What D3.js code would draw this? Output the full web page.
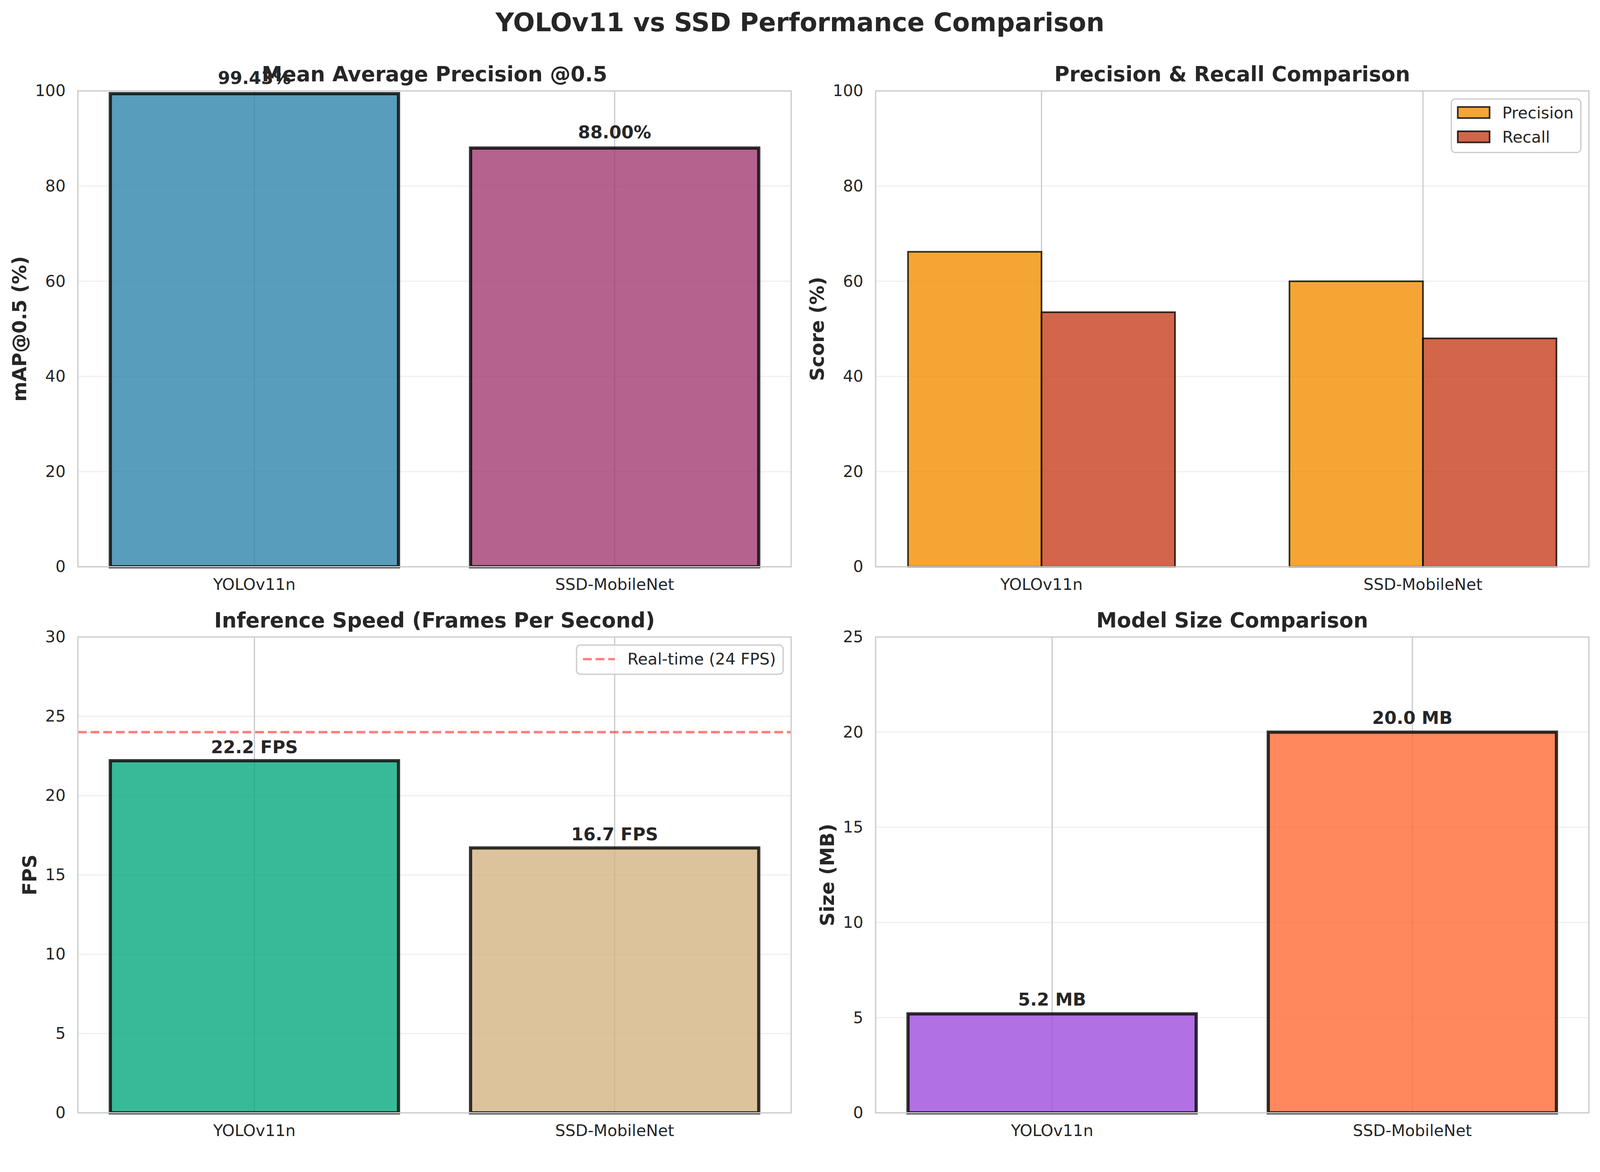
<!DOCTYPE html>
<html>
<head>
<meta charset="utf-8">
<script src="https://cdn.jsdelivr.net/npm/d3@7"></script>
<style>
  html, body { margin: 0; padding: 0; background: #fff; overflow: hidden; }
  svg { display: block; }
  text { font-family: "DejaVu Sans", sans-serif; fill: #262626; }
</style>
</head>
<body>
<svg id="fig" viewBox="0 0 4170 3000" preserveAspectRatio="xMinYMin meet"></svg>
<script>
const models = ["YOLOv11n", "SSD-MobileNet"];
const mapValues = [99.43, 88.00];
const precisionValues = [66.2, 60.0];
const recallValues = [53.5, 48.0];
const fpsValues = [22.2, 16.7];
const sizeValues = [5.2, 20.0];
const realtimeFps = 24;

const mapTicks = [0, 20, 40, 60, 80, 100];
const scoreTicks = [0, 20, 40, 60, 80, 100];
const fpsTicks = [0, 5, 10, 15, 20, 25, 30];
const sizeTicks = [0, 5, 10, 15, 20, 25];

const svg = d3.select("#fig")
  .style("width", "100vw").style("height", "100vh");
svg.append("rect").attr("width", 4170).attr("height", 3000).attr("fill", "#fff");

// panel boxes (pixels)
const colX = [203, 2282], panelW = 1859;
const rowY = [237, 1660], panelH = 1240;

const tickFont = 41.7, labelFont = 50, titleFont = 54, valueFont = 45.8;

svg.append("text")
  .attr("x", 2085).attr("y", 81)
  .attr("text-anchor", "middle")
  .style("font-size", "66.7px").style("font-weight", "bold")
  .text("YOLOv11 vs SSD Performance Comparison");

function makePanel(col, row, yMax, ticks, title, ylabel) {
  const g = svg.append("g").attr("transform", `translate(${colX[col]},${rowY[row]})`);
  const y = d3.scaleLinear().domain([0, yMax]).range([panelH, 0]);

  // horizontal grid (light)
  g.append("g").selectAll("line").data(ticks).enter().append("line")
    .attr("x1", 0).attr("x2", panelW)
    .attr("y1", d => y(d)).attr("y2", d => y(d))
    .attr("stroke", "#cccccc").attr("stroke-opacity", 0.3).attr("stroke-width", 3.3);

  const ya = g.append("g").call(d3.axisLeft(y).tickValues(ticks).tickSize(0).tickPadding(32));
  ya.select(".domain").remove();
  ya.selectAll("text").style("font-size", tickFont + "px").attr("fill", "#262626");

  g.append("text")
    .attr("x", panelW / 2).attr("y", -25)
    .attr("text-anchor", "middle")
    .style("font-size", titleFont + "px").style("font-weight", "bold")
    .text(title);

  const tickW = d3.max(ticks, t => String(t).length) * 0.636 * tickFont;
  g.append("text")
    .attr("transform", `translate(${-32 - tickW - 41},${panelH / 2}) rotate(-90)`)
    .attr("text-anchor", "middle")
    .attr("dy", "0.36em")
    .style("font-size", labelFont + "px").style("font-weight", "bold")
    .text(ylabel);

  return { g, y };
}

function addXAxis(g, x) {
  g.selectAll(".vgrid").data(models).enter().append("line")
    .attr("class", "vgrid")
    .attr("x1", d => x(d) + x.bandwidth() / 2).attr("x2", d => x(d) + x.bandwidth() / 2)
    .attr("y1", 0).attr("y2", panelH)
    .attr("stroke", "#cccccc").attr("stroke-width", 3.3);

  const xa = g.append("g").attr("transform", `translate(0,${panelH})`)
    .call(d3.axisBottom(x).tickSize(0).tickPadding(31));
  xa.select(".domain").remove();
  xa.selectAll("text").style("font-size", tickFont + "px").attr("fill", "#262626");
}

function addSpines(g) {
  g.append("rect")
    .attr("x", 0).attr("y", 0).attr("width", panelW).attr("height", panelH)
    .attr("fill", "none").attr("stroke", "#cccccc").attr("stroke-width", 3.3);
}

function singleBars(p, values, colors, fmt, offset) {
  const x = d3.scaleBand().domain(models).range([0, panelW]).paddingInner(0.2).paddingOuter(0.09);
  addXAxis(p.g, x);
  const data = models.map((m, i) => ({ m, v: values[i], c: colors[i] }));
  p.g.selectAll(".bar").data(data).enter().append("rect")
    .attr("class", "bar")
    .attr("x", d => x(d.m)).attr("width", x.bandwidth())
    .attr("y", d => p.y(d.v)).attr("height", d => p.y(0) - p.y(d.v))
    .attr("fill", d => d.c).attr("fill-opacity", 0.8)
    .attr("stroke", "#000").attr("stroke-opacity", 0.8).attr("stroke-width", 8.3);
  return { x, data, labels: () => {
    p.g.selectAll(".val").data(data).enter().append("text")
      .attr("class", "val")
      .attr("x", d => x(d.m) + x.bandwidth() / 2)
      .attr("y", d => p.y(d.v) - offset)
      .attr("text-anchor", "middle")
      .style("font-size", valueFont + "px").style("font-weight", "bold")
      .text(d => fmt(d.v));
  }};
}

function legend(g, items) {
  const pad = 16.7, rowH = 42.6, gap = 20.8, handleW = 83, textPad = 33;
  const textW = d3.max(items, d => d.w);
  const w = pad * 2 + handleW + textPad + textW;
  const h = pad * 2 + items.length * rowH + (items.length - 1) * gap;
  const lg = g.append("g").attr("transform", `translate(${panelW - 21 - w},21)`);
  lg.append("rect").attr("width", w).attr("height", h).attr("rx", 10)
    .attr("fill", "#fff").attr("fill-opacity", 0.8)
    .attr("stroke", "#cccccc").attr("stroke-width", 3.3);
  items.forEach((d, i) => {
    const base = pad + 34 + i * (rowH + gap);
    if (d.type === "patch") {
      lg.append("rect").attr("x", pad).attr("y", base - 30).attr("width", handleW).attr("height", 29)
        .attr("fill", d.color).attr("fill-opacity", 0.8)
        .attr("stroke", "#000").attr("stroke-opacity", 0.8).attr("stroke-width", 4.2);
    } else {
      lg.append("line").attr("x1", pad).attr("x2", pad + handleW)
        .attr("y1", base - 14).attr("y2", base - 14)
        .attr("stroke", "#ff0000").attr("stroke-opacity", 0.5)
        .attr("stroke-width", 6.25).attr("stroke-dasharray", "23,10");
    }
    lg.append("text").attr("x", pad + handleW + textPad).attr("y", base)
      .style("font-size", tickFont + "px").text(d.label);
  });
}

// Panel 1: mAP
const p1 = makePanel(0, 0, 100, mapTicks, "Mean Average Precision @0.5", "mAP@0.5 (%)");
const b1 = singleBars(p1, mapValues, ["#2E86AB", "#A23B72"], v => v.toFixed(2) + "%", 25);
addSpines(p1.g);
b1.labels();

// Panel 2: precision & recall
const p2 = makePanel(1, 0, 100, scoreTicks, "Precision & Recall Comparison", "Score (%)");
const series = ["Precision", "Recall"];
const seriesColors = { Precision: "#F18F01", Recall: "#C73E1D" };
const x0 = d3.scaleBand().domain(models).range([0, panelW]).paddingInner(0.3).paddingOuter(0.085);
const x1 = d3.scaleBand().domain(series).range([0, x0.bandwidth()]);
addXAxis(p2.g, x0);
const prData = [];
models.forEach((m, i) => {
  prData.push({ m, s: "Precision", v: precisionValues[i] });
  prData.push({ m, s: "Recall", v: recallValues[i] });
});
p2.g.selectAll(".bar").data(prData).enter().append("rect")
  .attr("class", "bar")
  .attr("x", d => x0(d.m) + x1(d.s)).attr("width", x1.bandwidth())
  .attr("y", d => p2.y(d.v)).attr("height", d => p2.y(0) - p2.y(d.v))
  .attr("fill", d => seriesColors[d.s]).attr("fill-opacity", 0.8)
  .attr("stroke", "#000").attr("stroke-opacity", 0.8).attr("stroke-width", 4.2);
addSpines(p2.g);
legend(p2.g, [
  { type: "patch", label: "Precision", color: seriesColors.Precision, w: 188 },
  { type: "patch", label: "Recall", color: seriesColors.Recall, w: 188 }
]);

// Panel 3: FPS
const p3 = makePanel(0, 1, 30, fpsTicks, "Inference Speed (Frames Per Second)", "FPS");
const b3 = singleBars(p3, fpsValues, ["#06A77D", "#D4B483"], v => v.toFixed(1) + " FPS", 20);
p3.g.append("line")
  .attr("x1", 0).attr("x2", panelW)
  .attr("y1", p3.y(realtimeFps)).attr("y2", p3.y(realtimeFps))
  .attr("stroke", "#ff0000").attr("stroke-opacity", 0.5)
  .attr("stroke-width", 6.25).attr("stroke-dasharray", "23,10");
addSpines(p3.g);
b3.labels();
legend(p3.g, [{ type: "line", label: "Real-time (24 FPS)", w: 389 }]);

// Panel 4: model size
const p4 = makePanel(1, 1, 25, sizeTicks, "Model Size Comparison", "Size (MB)");
const b4 = singleBars(p4, sizeValues, ["#9D4EDD", "#FF6B35"], v => v.toFixed(1) + " MB", 22);
addSpines(p4.g);
b4.labels();
</script>
</body>
</html>
